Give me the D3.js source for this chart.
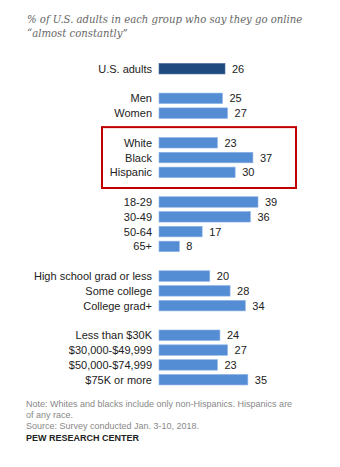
<!DOCTYPE html>
<html>
<head>
<meta charset="utf-8">
<script src="https://cdn.jsdelivr.net/npm/d3@7"></script>
<style>
  body { margin: 0; background: #fff; }
  svg { display: block; }
</style>
</head>
<body>
<div id="chart"></div>
<script>
// rows of the chart, blanks ("") are the gaps between groups
const categories = [
    "U.S. adults", "",
    "Men", "Women", "",
    "White", "Black", "Hispanic", "",
    "18-29", "30-49", "50-64", "65+", "",
    "High school grad or less", "Some college", "College grad+", "",
    "Less than $30K", "$30,000-$49,999", "$50,000-$74,999", "$75K or more"
];
const values = [
    26, null,
    25, 27, null,
    23, 37, 30, null,
    39, 36, 17, 8, null,
    20, 28, 34, null,
    24, 27, 23, 35
];
const titleLines = [
    "% of U.S. adults in each group who say they go online",
    "\u201calmost constantly\u201d"
];
const noteLines = [
    "Note: Whites and blacks include only non-Hispanics. Hispanics are",
    "of any race.",
    "Source: Survey conducted Jan. 3-10, 2018."
];
const highlighted = ["White", "Black", "Hispanic"];

const width = 340, height = 467;
const rows = categories.map((c, i) => ({ key: i, label: c, value: values[i] }));

const svg = d3.select("#chart").append("svg")
    .attr("width", width)
    .attr("height", height);

const x = d3.scaleLinear().domain([0, 39]).range([159, 258]);
const y = d3.scaleBand()
    .domain(rows.map(d => d.key))
    .range([61.3, 387.1])
    .paddingInner(0.29)
    .paddingOuter(0.145);

// title
svg.append("g").selectAll("text").data(titleLines).enter()
    .append("text")
    .attr("x", 27)
    .attr("y", (d, i) => 23 + i * 14)
    .style("font-family", "'DejaVu Serif', serif")
    .style("font-style", "italic")
    .style("font-size", "10.1px")
    .style("fill", "#666")
    .text(d => d);

const data = rows.filter(d => d.label !== "");

const g = svg.append("g");

g.selectAll("rect").data(data).enter()
    .append("rect")
    .attr("x", x(0))
    .attr("y", d => y(d.key))
    .attr("width", d => x(d.value) - x(0))
    .attr("height", y.bandwidth())
    .style("fill", d => d.label === "U.S. adults" ? "#1f4a80" : "#548dd4")
    .style("stroke", d => d.label === "U.S. adults" ? "#4a6d9c" : "#8fb3e6")
    .style("stroke-width", 0.6);

g.selectAll(".lbl").data(data).enter()
    .append("text")
    .attr("class", "lbl")
    .attr("x", 152)
    .attr("y", d => y(d.key) + y.bandwidth() / 2)
    .attr("dy", "0.36em")
    .attr("text-anchor", "end")
    .style("font-family", "'Liberation Sans', Arial, sans-serif")
    .style("font-size", "11px")
    .style("fill", "#222")
    .text(d => d.label);

g.selectAll(".val").data(data).enter()
    .append("text")
    .attr("class", "val")
    .attr("x", d => x(d.value) + 7)
    .attr("y", d => y(d.key) + y.bandwidth() / 2)
    .attr("dy", "0.36em")
    .style("font-family", "'Liberation Sans', Arial, sans-serif")
    .style("font-size", "11px")
    .style("fill", "#222")
    .text(d => d.value);

// red box round the race group
const hiKeys = data.filter(d => highlighted.includes(d.label)).map(d => d.key);
const boxTop = y(hiKeys[0]) - y.step() * 0.7;
const boxBottom = y(hiKeys[hiKeys.length - 1]) + y.bandwidth() + y.step() * 0.7;
svg.append("rect")
    .attr("x", 102)
    .attr("y", boxTop)
    .attr("width", 194)
    .attr("height", boxBottom - boxTop)
    .style("fill", "none")
    .style("stroke", "#c00000")
    .style("stroke-width", 2);

// notes
svg.append("g").selectAll("text").data(noteLines).enter()
    .append("text")
    .attr("x", 26)
    .attr("y", (d, i) => 407 + i * 11)
    .style("font-family", "'Liberation Sans', Arial, sans-serif")
    .style("font-size", "9px")
    .style("fill", "#888")
    .text(d => d);

svg.append("text")
    .attr("x", 26)
    .attr("y", 441)
    .style("font-family", "'Liberation Sans', Arial, sans-serif")
    .style("font-size", "9px")
    .style("font-weight", "bold")
    .style("fill", "#222")
    .text("PEW RESEARCH CENTER");
</script>
</body>
</html>
